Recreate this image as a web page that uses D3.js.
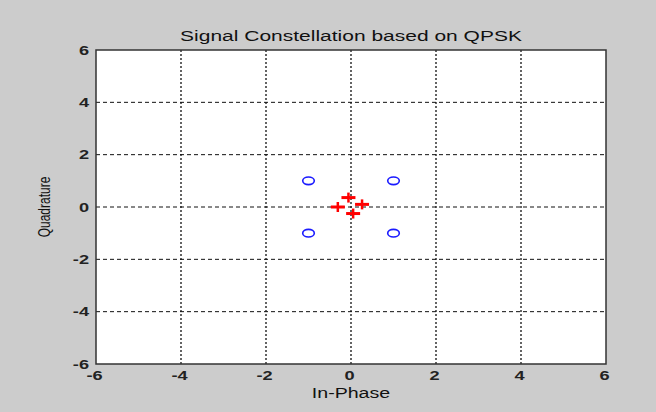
<!DOCTYPE html>
<html>
<head>
<meta charset="utf-8">
<script src="https://cdn.jsdelivr.net/npm/d3@7"></script>
<style>
  body { margin: 0; background: #cccccc; }
  text { font-family: "Liberation Sans", Arial, sans-serif; }
</style>
</head>
<body>
<div id="chart-area"></div>
<script>
// Dane
var xTicks = [-6, -4, -2, 0, 2, 4, 6];
var yTicks = [-6, -4, -2, 0, 2, 4, 6];
// idealne punkty konstelacji (o)
var refI = [-1, 1, -1, 1];
var refQ = [1, 1, -1, -1];
// odebrane symbole (+)
var rxI = [-0.06, -0.31, 0.26, 0.05];
var rxQ = [0.36, 0.0, 0.1, -0.25];

var W = 656, H = 412;
var margin = { left: 96, right: 50, top: 50, bottom: 48 };
var width = W - margin.left - margin.right;
var height = H - margin.top - margin.bottom;
var sx = 1.4; // rozciagniecie tekstu w poziomie

var svg = d3.select("#chart-area")
	.append("svg")
	.attr("width", W)
	.attr("height", H);

svg.append("rect")
	.attr("width", W)
	.attr("height", H)
	.attr("fill", "#cccccc");

var g = svg.append("g")
	.attr("transform", "translate(" + margin.left + "," + margin.top + ")");

// Skale
var x = d3.scaleLinear().domain([-6, 6]).range([0, width]);
var y = d3.scaleLinear().domain([-6, 6]).range([height, 0]);

g.append("rect")
	.attr("width", width)
	.attr("height", height)
	.attr("fill", "white");

// Siatka
g.selectAll(".vgrid")
	.data(xTicks.slice(1, -1))
	.enter().append("line")
	.attr("class", "vgrid")
	.attr("x1", d => x(d)).attr("x2", d => x(d))
	.attr("y1", 0).attr("y2", height)
	.attr("stroke", "#111")
	.attr("stroke-width", 1.3)
	.attr("stroke-dasharray", "2,2");

g.selectAll(".hgrid")
	.data(yTicks.slice(1, -1))
	.enter().append("line")
	.attr("class", "hgrid")
	.attr("x1", 0).attr("x2", width)
	.attr("y1", d => y(d)).attr("y2", d => y(d))
	.attr("stroke", "#111")
	.attr("stroke-width", 1)
	.attr("stroke-dasharray", "4,3");

// Osie
var fmt = d => String(d);
var xAxisCall = d3.axisBottom(x).tickValues(xTicks).tickSize(0).tickPadding(7).tickFormat(fmt);
var xAxis = g.append("g")
	.attr("transform", "translate(0," + height + ")")
	.call(xAxisCall);

var yAxisCall = d3.axisLeft(y).tickValues(yTicks).tickSize(0).tickPadding(7).tickFormat(fmt);
var yAxis = g.append("g").call(yAxisCall);

[xAxis, yAxis].forEach(a => {
	a.select(".domain").remove();
	a.selectAll("text")
		.attr("font-size", "13px")
		.attr("font-weight", "bold")
		.attr("font-family", "'Liberation Sans', Arial, sans-serif")
		.attr("fill", "#222")
		.attr("transform", "scale(" + sx + ",1)");
});
xAxis.selectAll("text").attr("x", -2 / sx);
yAxis.selectAll("text").attr("x", -7 / sx);

// Ramka
g.append("rect")
	.attr("width", width)
	.attr("height", height)
	.attr("fill", "none")
	.attr("stroke", "#333")
	.attr("stroke-width", 1.5);

// Punkty
g.selectAll(".ref")
	.data(refI)
	.enter().append("ellipse")
	.attr("class", "ref")
	.attr("cx", d => x(d))
	.attr("cy", (d, i) => y(refQ[i]))
	.attr("rx", 5.8)
	.attr("ry", 3.8)
	.attr("fill", "none")
	.attr("stroke", "#1a1aff")
	.attr("stroke-width", 1.6);

var plus = g.selectAll(".rx")
	.data(rxI)
	.enter().append("g")
	.attr("class", "rx")
	.attr("transform", (d, i) => "translate(" + x(d) + "," + y(rxQ[i]) + ")");
plus.append("line")
	.attr("x1", -7).attr("x2", 7).attr("y1", 0).attr("y2", 0)
	.attr("stroke", "red").attr("stroke-width", 3);
plus.append("line")
	.attr("x1", 0).attr("x2", 0).attr("y1", -5).attr("y2", 5)
	.attr("stroke", "red").attr("stroke-width", 2.5);

// Etykiety
function label(tx, ty, size, txt, rot) {
	svg.append("text")
		.attr("transform", "translate(" + tx + "," + ty + ") scale(" + sx + ",1)" + (rot ? " rotate(-90)" : ""))
		.attr("font-size", size)
		.attr("text-anchor", "middle")
		.attr("fill", "#111")
		.text(txt);
}
label(margin.left + width / 2, 41, "15px", "Signal Constellation based on QPSK");
label(margin.left + width / 2, 398, "14px", "In-Phase");
label(50, margin.top + height / 2, "12px", "Quadrature", true);
</script>
</body>
</html>
